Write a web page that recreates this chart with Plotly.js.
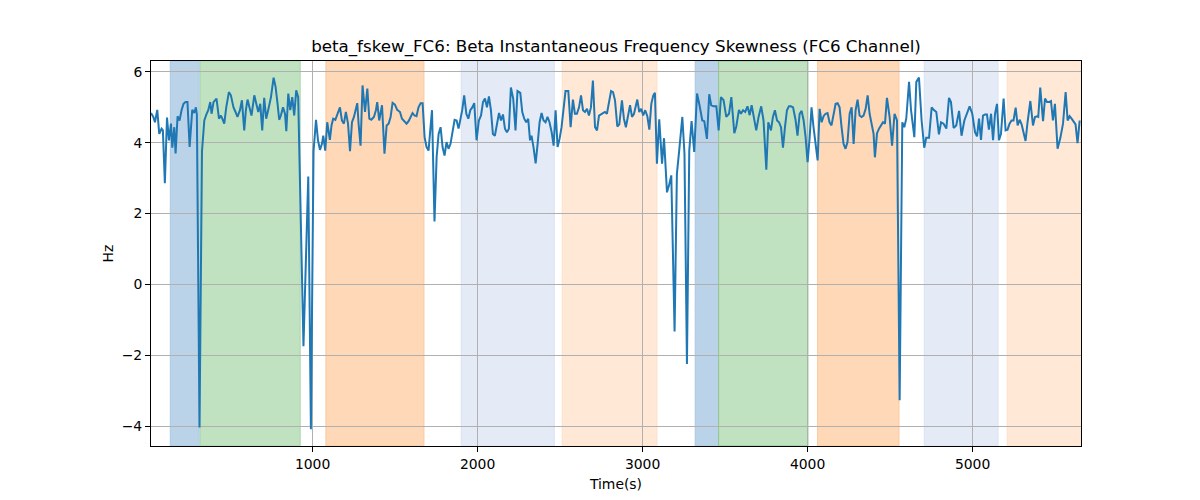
<!DOCTYPE html>
<html>
<head>
<meta charset="utf-8">
<script src="https://cdn.plot.ly/plotly-3.0.1.min.js"></script>
<style>
  body { margin: 0; background: #fff; }
  #chart { width: 1200px; height: 500px; }
</style>
</head>
<body>
<div id="chart"></div>
<script>
// ================= Dados =================
var tempo = [21,35,45,59,71,85,93,105,118,130,142,150,162,170,182,194,206,218,230,242,255,271,283,293,299,315,330,344,358,368,380,388,400,418,433,445,453,465,477,493,505,521,533,545,560,572,586,596,606,618,630,647,659,671,683,695,707,719,731,748,764,776,788,798,808,821,833,841,853,865,877,889,901,913,945,974,990,1006,1021,
  1033,1045,1057,1065,1077,1089,1105,1115,1125,1138,1152,1166,1178,1190,1202,1215,1227,1239,1251,1263,1271,1279,1291,1303,1318,1332,1344,1356,1372,1384,1392,1404,1421,1436,1449,1461,1473,1485,1499,1513,1530,1542,1554,1570,1582,1594,1606,1618,1630,1642,1655,1667,1679,1691,1703,1715,1724,1739,1752,1764,1776,1788,1800,1812,1824,1836,1848,1861,1873,1885,
  1907,1919,1932,1944,1956,1968,1980,1994,2008,2021,2033,2045,2057,2069,2081,2093,2105,2118,2130,2142,2154,2166,2178,2190,2202,2216,2230,2242,2259,2271,2283,2295,2307,2318,2327,2339,2352,2364,2376,2388,2400,2412,2424,2436,2449,2461,2473,2485,2497,2509,2521,2533,2550,2564,2578,2590,2602,2615,2627,2639,2651,2663,2675,2687,2699,2712,2724,2736,2748,2760,2772,2784,2796,2809,2821,2833,
  2847,2859,2875,2887,2899,2912,2924,2936,2948,2960,2968,2980,2992,3004,3016,3029,3041,3053,3065,3075,3087,3101,3118,3130,3148,3160,3174,3194,3208,3224,3241,3254,3269,3283,3297,3313,3330,3345,3362,3374,3390,3404,3416,3430,3447,3461,3475,3491,3507,3524,3538,3556,3568,3584,3596,3609,3622,3636,3649,3661,3673,3689,3703,3719,3733,3750,
  3762,3778,3790,3802,3815,3827,3839,3851,3863,3875,3887,3899,3912,3927,3939,3952,3964,3976,3988,4000,4012,4024,4036,4048,4061,4073,4085,4097,4109,4121,4133,4145,4158,4170,4182,4194,4206,4218,4230,4242,4255,4267,4279,4291,4303,4315,4327,4339,4352,4364,4376,4388,4400,4408,4421,4433,4445,4457,4469,4481,
  4497,4512,4527,4542,4558,4574,4586,4598,4615,4627,4647,4659,4675,4691,4707,4719,4736,4752,4764,4780,4796,4809,4824,4841,4857,4869,4885,4901,4918,4933,4950,4966,4982,4998,5015,5027,5039,5051,5063,5075,5087,5099,5112,5124,5136,5148,5160,5172,5188,5200,5212,5224,5236,5248,5261,5273,5285,5297,5309,5321,5333,5350,5366,5378,5390,5398,5410,5427,5439,5451,5463,5475,5487,5499,5515,5532,5548,5564,5576,5588,5600,5612,5624,5636,5649];

var skew = [4.84,4.73,4.58,4.93,4.25,4.4,4.35,2.86,4.71,4.07,4.54,3.86,4.44,3.7,4.75,4.63,4.92,5.1,5.15,5.15,3.88,4.93,4.84,5.0,4.8,-4.04,3.76,4.63,4.82,4.92,5.15,4.82,5.15,5.25,4.68,4.77,4.68,4.54,5.0,5.43,5.34,5.0,4.87,4.73,4.92,5.2,4.35,4.92,5.22,5.0,4.77,5.34,5.1,4.87,5.1,4.35,5.27,4.68,4.92,5.29,5.84,5.58,5.1,4.65,4.77,5.0,4.82,4.33,5.39,4.92,5.29,4.77,5.48,5.29,-1.75,3.05,-4.09,3.76,4.65,
  4.07,3.8,3.97,4.2,3.78,4.58,4.08,4.49,4.68,4.65,4.82,5.0,4.63,4.54,4.87,4.54,3.76,4.58,4.73,4.92,5.12,4.54,3.92,5.62,4.87,5.53,4.68,4.65,4.73,4.92,5.15,4.63,5.06,3.69,4.49,4.54,4.73,5.13,5.08,4.93,4.87,4.68,4.61,4.54,4.61,4.73,4.84,4.77,4.75,5.0,5.12,5.12,4.16,3.88,3.78,4.44,4.92,1.78,3.6,4.25,4.44,3.88,3.64,4.02,3.83,3.97,4.35,4.65,4.63,4.4,
  4.92,5.34,4.82,4.68,4.92,5.0,5.12,4.07,4.63,4.77,5.15,5.25,5.0,5.31,4.92,4.25,4.2,4.54,4.84,4.63,4.8,4.4,4.3,4.4,5.56,5.25,4.35,5.46,5.41,4.87,4.68,4.58,4.68,4.07,4.2,3.88,3.42,3.97,4.58,4.84,4.63,4.58,4.73,4.58,4.3,3.92,4.92,3.88,4.11,4.44,4.92,5.46,5.46,4.44,5.22,4.82,4.82,5.0,5.34,4.92,4.87,4.96,4.77,5.0,5.76,4.44,4.35,4.77,4.8,4.84,4.87,4.82,5.15,5.46,5.43,5.2,
  4.46,4.52,5.2,4.68,4.44,4.73,5.06,4.73,4.82,5.06,5.22,4.87,4.96,4.77,4.92,4.75,4.37,5.1,5.34,5.41,3.41,4.66,3.41,4.13,2.6,2.79,3.08,-1.33,3.12,3.88,4.73,3.69,-2.25,3.78,4.61,3.74,5.39,5.06,4.63,4.61,4.11,5.37,5.06,5.03,5.03,4.35,5.29,5.2,4.73,4.82,5.29,4.27,4.46,4.93,4.82,4.92,4.87,5.03,4.78,5.06,4.73,4.35,4.73,5.03,4.63,3.24,
  4.58,4.35,4.73,4.92,4.63,4.58,4.44,3.86,4.44,4.92,5.03,5.03,5.0,4.65,4.2,4.82,4.9,4.63,4.16,3.45,4.11,5.0,4.44,3.97,3.5,4.96,4.58,4.75,4.82,4.84,4.58,4.49,4.77,5.1,5.12,5.0,4.44,3.97,3.83,4.02,4.82,5.0,3.97,4.92,5.22,4.77,4.73,4.77,4.96,5.34,4.82,4.54,4.25,3.59,4.27,4.4,4.49,4.58,4.54,5.27,
  4.73,3.92,4.82,4.63,-3.27,4.58,4.44,4.68,5.72,4.92,4.16,5.72,5.84,4.63,3.86,4.14,4.14,5.0,4.93,4.87,4.24,4.58,4.54,4.4,5.27,5.15,4.42,4.49,4.9,4.2,4.63,4.84,5.03,4.82,4.3,4.18,4.68,4.08,4.77,4.8,4.8,4.37,4.82,4.07,4.82,5.1,4.07,4.25,5.25,4.35,4.37,4.54,4.63,4.63,4.99,4.49,4.65,4.52,4.3,4.05,4.58,5.18,4.49,4.73,4.75,4.73,5.56,4.61,5.25,5.15,5.15,5.18,4.63,5.1,3.83,4.14,4.54,5.43,4.63,4.75,4.68,4.58,4.52,3.99,4.63];

// Intervalos sombreados (início, fim, cor)
var faixaInicio = [138, 319, 1081, 1901, 2513, 3319, 3461, 4061, 4707, 5210];
var faixaFim    = [313, 925, 1675, 2465, 3087, 3461, 4002, 4554, 5154, 5660];
var faixaCor    = ['#bad3e8','#c0e2c0','#fed8b7','#e4ebf6','#ffe9d6','#bad3e8','#c0e2c0','#fed8b7','#e4ebf6','#ffe9d6'];
var faixaBorda  = ['#a9c8e2','#a8d5a8','#fcc99c','#d8e3f2','#fde0c6','#a9c8e2','#8fc48f','#fcc99c','#d8e3f2','#fde0c6'];

// ================= Monta o gráfico =================
var formas = [];
for (var i = 0; i < faixaInicio.length; i++) {
  formas.push({
    type: 'rect', xref: 'x', yref: 'paper',
    x0: faixaInicio[i], x1: faixaFim[i], y0: 0, y1: 1,
    fillcolor: faixaCor[i],
    line: {color: faixaBorda[i], width: 1},
    layer: 'below'
  });
}

var trace = {
  x: tempo, y: skew,
  mode: 'lines', type: 'scatter',
  line: {color: '#1f77b4', width: 2},
  hoverinfo: 'skip'
};

var fonte = {family: 'DejaVu Sans, sans-serif', size: 13.9, color: '#000'};

var layout = {
  width: 1200, height: 500,
  margin: {l: 151, r: 119, t: 61, b: 54},
  paper_bgcolor: '#fff', plot_bgcolor: 'rgba(0,0,0,0)',
  showlegend: false,
  font: fonte,
  title: {
    text: 'beta_fskew_FC6: Beta Instantaneous Frequency Skewness (FC6 Channel)',
    font: {family: 'DejaVu Sans, sans-serif', size: 16.7, color: '#000'},
    x: 0.5, xref: 'paper', xanchor: 'center',
    y: 1 - 46 / 500, yref: 'container', yanchor: 'middle'
  },
  xaxis: {
    range: [21, 5657],
    tickvals: [1000, 2000, 3000, 4000, 5000],
    ticks: 'outside', ticklen: 5, tickcolor: '#000', tickwidth: 1,
    showgrid: true, gridcolor: '#b0b0b0', gridwidth: 1,
    zeroline: false,
    showline: true, linecolor: '#000', linewidth: 1, mirror: true,
    tickfont: fonte,
    title: {text: 'Time(s)', font: fonte, standoff: 8},
    automargin: false
  },
  yaxis: {
    range: [-4.565, 6.31],
    tickvals: [-4, -2, 0, 2, 4, 6],
    ticks: 'outside', ticklen: 5, tickcolor: '#000', tickwidth: 1,
    showgrid: true, gridcolor: '#b0b0b0', gridwidth: 1,
    zeroline: false,
    showline: true, linecolor: '#000', linewidth: 1, mirror: true,
    tickfont: fonte,
    title: {text: 'Hz', font: fonte, standoff: 4},
    automargin: false
  },
  shapes: formas
};

Plotly.newPlot('chart', [trace], layout, {staticPlot: true, displayModeBar: false});
</script>
</body>
</html>
